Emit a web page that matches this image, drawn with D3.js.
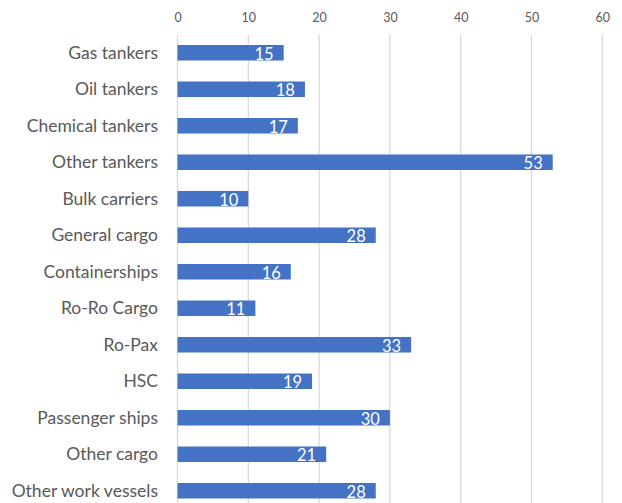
<!DOCTYPE html>
<html>
<head>
<meta charset="utf-8">
<script src="https://cdn.jsdelivr.net/npm/d3@7"></script>
<style>
  html, body { margin: 0; padding: 0; background: #fff; }
  svg { display: block; }
</style>
</head>
<body>
<svg id="chart" width="622" height="503"></svg>
<script>
// Vessel types and their counts
const categories = [
  "Gas tankers", "Oil tankers", "Chemical tankers", "Other tankers",
  "Bulk carriers", "General cargo", "Containerships", "Ro-Ro Cargo",
  "Ro-Pax", "HSC", "Passenger ships", "Other cargo", "Other work vessels"
];
const values = [15, 18, 17, 53, 10, 28, 16, 11, 33, 19, 30, 21, 28];
const xTicks = [0, 10, 20, 30, 40, 50, 60];

const svg = d3.select("#chart");
const font = "Lato, 'Open Sans', sans-serif";

const x = d3.scaleLinear().domain([0, 60]).range([177.5, 602.3]);
const y = d3.scaleBand().domain(categories).range([34.5, 509]).paddingInner(0.575).paddingOuter(0.2875);

// Vertical gridlines
svg.append("g")
  .selectAll("line")
  .data(xTicks)
  .join("line")
  .attr("x1", d => x(d)).attr("x2", d => x(d))
  .attr("y1", 35).attr("y2", 503)
  .attr("stroke", "#d9d9d9").attr("stroke-width", 1.3);

// Top axis tick labels
const axis = d3.axisTop(x).tickValues(xTicks).tickSize(0).tickPadding(0);
const gAxis = svg.append("g").attr("transform", "translate(0,21.5)").call(axis);
gAxis.select(".domain").remove();
gAxis.selectAll("text")
  .attr("fill", "#595959")
  .style("font-family", font)
  .style("font-size", "12.5px");

// Category labels
svg.append("g")
  .selectAll("text")
  .data(categories)
  .join("text")
  .attr("x", 158)
  .attr("y", d => y(d) + y.bandwidth() / 2)
  .attr("dy", "0.35em")
  .attr("text-anchor", "end")
  .attr("fill", "#595959")
  .style("font-family", font)
  .style("font-size", "17.5px")
  .text(d => d);

// Bars
svg.append("g")
  .selectAll("rect")
  .data(values)
  .join("rect")
  .attr("x", x(0))
  .attr("y", (d, i) => y(categories[i]))
  .attr("width", d => x(d) - x(0))
  .attr("height", y.bandwidth())
  .attr("fill", "#4472C4");

// Value labels inside bar ends
svg.append("g")
  .selectAll("text")
  .data(values)
  .join("text")
  .attr("x", d => x(d) - 10)
  .attr("y", (d, i) => y(categories[i]) + y.bandwidth() / 2)
  .attr("dy", "0.42em")
  .attr("text-anchor", "end")
  .attr("fill", "#ffffff")
  .style("font-family", font)
  .style("font-size", "16.5px")
  .text(d => d);
</script>
</body>
</html>
